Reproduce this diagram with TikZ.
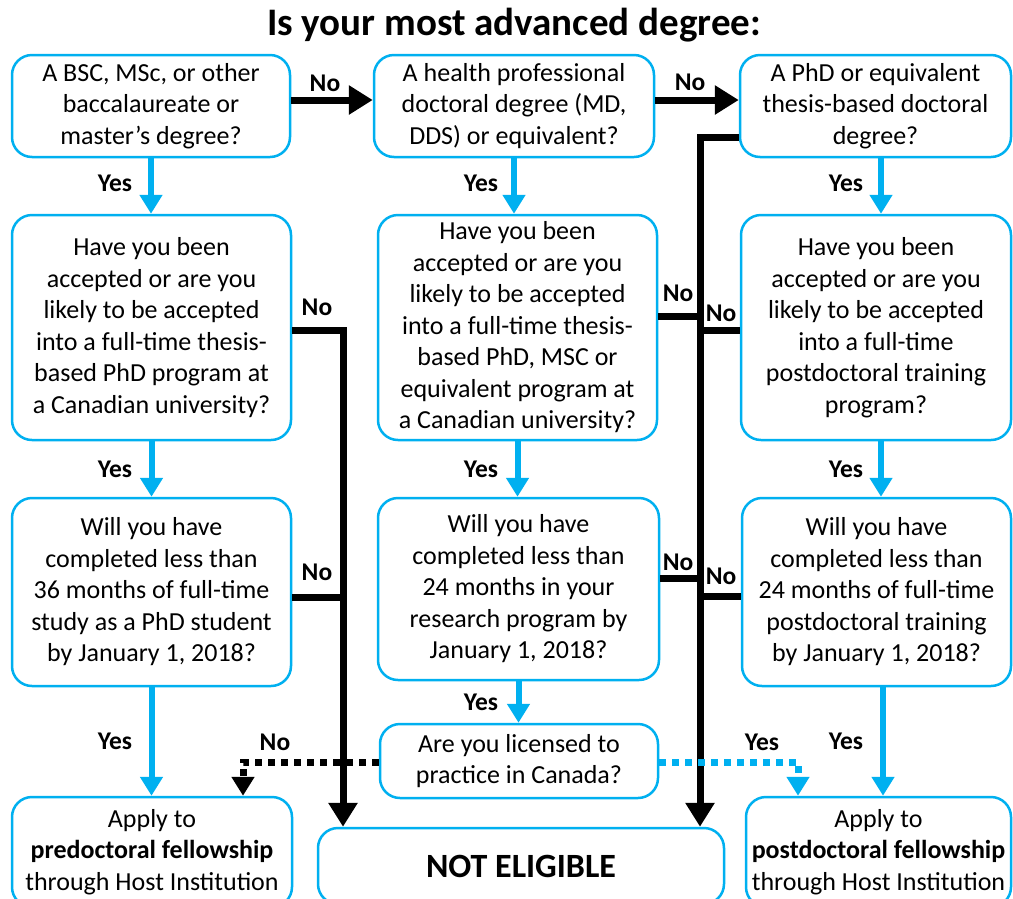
\documentclass[tikz,border=0pt]{standalone}
\usepackage{fontspec}
\setmainfont{Carlito}
\usetikzlibrary{arrows.meta}
\definecolor{cblue}{HTML}{00B0F0}
\begin{document}
\begin{tikzpicture}[x=1pt,y=-1pt,
 box/.style={draw=cblue,line width=2.5pt,rounded corners=20pt,align=center,inner sep=0pt,font=\fontsize{26}{31.5}\selectfont},
 lab/.style={font=\bfseries\fontsize{25.5}{28}\selectfont,inner sep=0pt},
 blk/.style={line width=7pt,black},
 blkarr/.style={blk,-{Triangle[width=28pt,length=24pt]}},
 barr/.style={line width=6pt,cblue,-{Triangle[width=22pt,length=19pt]}},
 dotblk/.style={line width=7pt,black,dash pattern=on 7pt off 6pt,-{Triangle[width=22pt,length=19pt]}},
 dotblu/.style={line width=7pt,cblue,dash pattern=on 7pt off 6pt,-{Triangle[width=22pt,length=19pt]}},
]
\useasboundingbox (0,0) rectangle (1013,898);
\clip (0,0) rectangle (1013,898);
\fill[white] (0,0) rectangle (1013,898);

\node[font=\bfseries\fontsize{39}{42}\selectfont,inner sep=0pt] (title) at (514,25) {Is your most advanced degree:};

\node[box,minimum width=278pt,minimum height=102pt] (A) at (151,106) {A BSC, MSc, or other\\baccalaureate or\\master’s degree?};
\node[box,minimum width=280pt,minimum height=102pt] (B) at (514,106) {A health professional\\doctoral degree (MD,\\DDS) or equivalent?};
\node[box,minimum width=271pt,minimum height=102pt] (C) at (875.5,106) {A PhD or equivalent\\thesis-based doctoral\\degree?};

\node[box,minimum width=279pt,minimum height=225pt] (D) at (151.5,327.5) {Have you been\\accepted or are you\\likely to be accepted\\into a full-time thesis-\\based PhD program at\\a Canadian university?};
\node[box,minimum width=279pt,minimum height=225pt] (E) at (517.5,327.5) {Have you been\\accepted or are you\\likely to be accepted\\into a full-time thesis-\\based PhD, MSC or\\equivalent program at\\a Canadian university?};
\node[box,minimum width=270pt,minimum height=225pt] (F) at (876,327.5) {Have you been\\accepted or are you\\likely to be accepted\\into a full-time\\postdoctoral training\\program?};

\node[box,minimum width=279pt,minimum height=188pt] (G) at (151.5,592) {Will you have\\completed less than\\36 months of full-time\\study as a PhD student\\by January 1, 2018?};
\node[box,minimum width=281pt,minimum height=182pt] (H) at (518.5,589) {Will you have\\completed less than\\24 months in your\\research program by\\January 1, 2018?};
\node[box,minimum width=269pt,minimum height=188pt] (I) at (876.5,592) {Will you have\\completed less than\\24 months of full-time\\postdoctoral training\\by January 1, 2018?};

\node[box,minimum width=278pt,minimum height=74pt] (J) at (519,761) {Are you licensed to\\practice in Canada?};
\node[box,minimum width=280pt,minimum height=110pt] (K) at (152,852) {Apply to\\\textbf{predoctoral fellowship}\\through Host Institution};
\node[box,minimum width=406pt,minimum height=76pt,font=\bfseries\fontsize{34}{38}\selectfont] (L) at (521,866) {NOT ELIGIBLE};
\node[box,minimum width=265pt,minimum height=110pt] (M) at (878.5,852) {Apply to\\\textbf{postdoctoral fellowship}\\through Host Institution};

% helper coordinates
\coordinate (r1) at (0,100);
\coordinate (xl) at (343,0);
\coordinate (xr) at (700,0);
\coordinate (xc) at (881,0);
\coordinate (xm) at (883,0);
\coordinate (xk) at (243,0);
\coordinate (xy) at (798,0);
\coordinate (cj) at (700,137);
\coordinate (dj) at (343,330);
\coordinate (yJ) at (0,762);

% top row No arrows
\draw[blkarr] (A.east |- r1) -- (B.west |- r1);
\draw[blkarr] (B.east |- r1) -- (C.west |- r1);
\node[lab] (n1) at (325,83) {No};
\node[lab] (n2) at (690,82) {No};

% Yes arrows
\draw[barr] (A.south) -- (A.south |- D.north);
\draw[barr] (B.south) -- (B.south |- E.north);
\draw[barr] (xc |- C.south) -- (xc |- F.north);
\draw[barr] (D.south) -- (D.south |- G.north);
\draw[barr] (E.south) -- (E.south |- H.north);
\draw[barr] (xc |- F.south) -- (xc |- I.north);
\draw[barr] (G.south) -- (G.south |- K.north);
\draw[barr] (H.south) -- (H.south |- J.north);
\draw[barr] (xm |- I.south) -- (xm |- M.north);
\node[lab] (y1) at (115,183) {Yes};
\node[lab] (y2) at (481,183) {Yes};
\node[lab] (y3) at (846,183) {Yes};
\node[lab] (y4) at (115,469) {Yes};
\node[lab] (y5) at (481,469) {Yes};
\node[lab] (y6) at (846,469) {Yes};
\node[lab] (y7) at (115,741) {Yes};
\node[lab] (y8) at (481,702) {Yes};
\node[lab] (y9) at (846,741) {Yes};

% left black trunk
\draw[blkarr] (D.east |- dj) -- (dj) -- (dj |- L.north);
\draw[blk] (G.east |- 0,597) -- (xl |- 0,597);
\node[lab] (n3) at (317,307) {No};
\node[lab] (n4) at (317,572) {No};

% right black trunk
\draw[blkarr] (C.west |- cj) -- (cj) -- (cj |- L.north);
\draw[blk] (E.east |- 0,316) -- (xr |- 0,316);
\draw[blk] (F.west |- 0,330) -- (xr |- 0,330);
\draw[blk] (H.east |- 0,578) -- (xr |- 0,578);
\draw[blk] (I.west |- 0,596) -- (xr |- 0,596);
\node[lab] (n5) at (678,293) {No};
\node[lab] (n6) at (721,313) {No};
\node[lab] (n7) at (678,562) {No};
\node[lab] (n8) at (721,576) {No};

% licence dotted
\draw[dotblk] (J.west |- yJ) -- (xk |- yJ) -- (xk |- K.north);
\draw[dotblu] (J.east |- yJ) -- (xy |- yJ) -- (xy |- M.north);
\node[lab] (n9) at (275,742) {No};
\node[lab] (y10) at (762,742) {Yes};
\end{tikzpicture}
\end{document}
